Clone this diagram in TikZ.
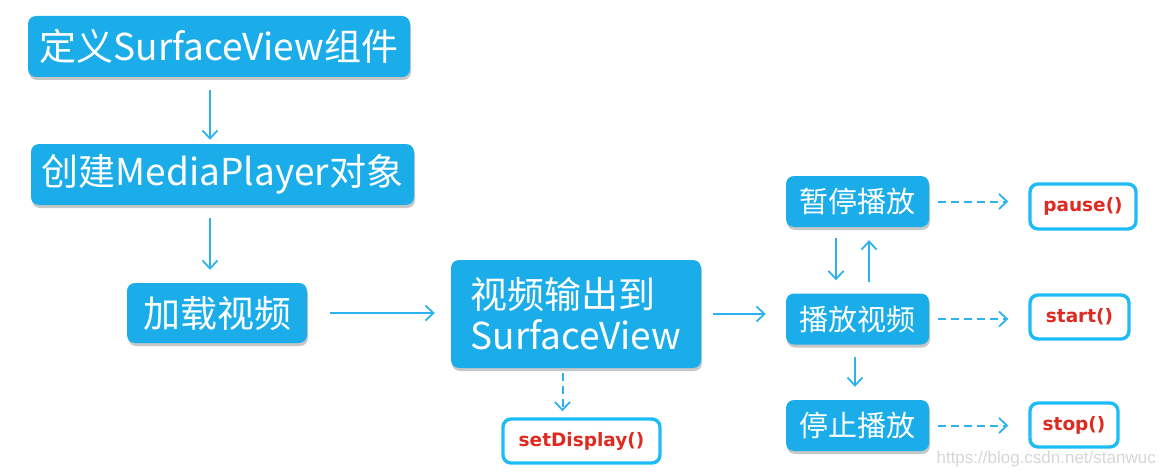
\documentclass[tikz,border=0pt]{standalone}
\usepackage{fontspec}
\newfontfamily\cjk{Noto Sans CJK SC}
\newfontfamily\codefont{DejaVu Sans}
\newfontfamily\wmfont{Liberation Sans}
\usetikzlibrary{arrows.meta,shadows,calc}
\definecolor{boxblue}{RGB}{26,173,234}
\definecolor{arrblue}{RGB}{45,178,238}
\definecolor{outcyan}{RGB}{30,188,246}
\definecolor{codered}{RGB}{222,42,32}
\definecolor{wmgray}{RGB}{214,214,214}
\tikzset{
  bluebox/.style={fill=boxblue, rounded corners=8pt, text=white, inner sep=0pt,
    font=\cjk, drop shadow={shadow xshift=1pt, shadow yshift=-3pt, opacity=0.22, fill=black}},
  bigbox/.style={bluebox, font=\cjk\fontsize{37}{41}\selectfont},
  smallbox/.style={bluebox, font=\cjk\fontsize{29}{33}\selectfont, minimum width=143pt, minimum height=51pt},
  codebox/.style={draw=outcyan, line width=3.4pt, fill=white, rounded corners=8pt, inner sep=0pt,
    text=codered, font=\codefont\bfseries\fontsize{18.5}{20}\selectfont},
  arr/.style={draw=arrblue, line width=1.8pt, -{Straight Barb[length=8pt,width=15pt,line width=1.8pt]}},
  darr/.style={arr, line width=2pt, dash pattern=on 8pt off 5pt},
}
\begin{document}
\begin{tikzpicture}[x=1pt,y=-1pt]
\useasboundingbox (0,0) rectangle (1164,476);
% blue boxes
\node[bigbox, minimum width=382pt, minimum height=61pt] (b1) at (219,46.5) {定义SurfaceView组件};
\node[bigbox, minimum width=383pt, minimum height=61pt] (b2) at (222.5,174.5) {创建MediaPlayer对象};
\node[bigbox, minimum width=180pt, minimum height=60pt] (b3) at (217,313) {加载视频};
\node[bigbox, minimum width=250pt, minimum height=108pt, align=left] (b4) at (576,314) {视频输出到\\SurfaceView};
\node[smallbox] (pause) at (857.5,201.5) {暂停播放};
\node[smallbox] (play) at (857.5,319) {播放视频};
\node[smallbox] (stop) at (857.5,425.5) {停止播放};
% code boxes
\node[codebox, minimum width=157pt, minimum height=44pt] (sd) at (581.5,441) {setDisplay()};
\node[codebox, minimum width=106pt, minimum height=45pt] (pz) at (1083,206.5) {pause()};
\node[codebox, minimum width=99pt, minimum height=44pt] (st) at (1079.5,317) {start()};
\node[codebox, minimum width=88pt, minimum height=44pt] (sp) at (1074,425) {stop()};
% connectors
\coordinate (a1) at ([xshift=-9pt]b1.south);
\draw[arr, shorten <=13pt, shorten >=4pt] (a1) -- (a1 |- b2.north);
\coordinate (a2) at ([xshift=-7pt]b3.north);
\draw[arr, shorten <=13pt, shorten >=13pt] (b2.south -| a2) -- (a2);
\draw[arr, shorten <=23pt, shorten >=16pt] (b3.east) -- (b3.east -| b4.west);
\draw[arr, shorten <=12pt, shorten >=20pt] (b4.east) -- (b4.east -| play.west);
\coordinate (a3) at ([xshift=-13.5pt]b4.south);
\draw[darr, shorten <=5pt, shorten >=6pt] (a3) -- (a3 |- sd.north);
\coordinate (a4) at ([xshift=-21.5pt]pause.south);
\draw[arr, shorten <=11pt, shorten >=13pt] (a4) -- (a4 |- play.north);
\coordinate (a5) at ([xshift=11.5pt]play.north);
\draw[arr, shorten <=11pt, shorten >=13pt] (a5) -- (a5 |- pause.south);
\coordinate (a6) at ([xshift=-2.5pt]play.south);
\draw[arr, shorten <=12pt, shorten >=13pt] (a6) -- (a6 |- stop.north);
\draw[darr, shorten <=9pt, shorten >=20pt] (pause.east) -- (pause.east -| pz.west);
\draw[darr, shorten <=9pt, shorten >=20pt] (play.east) -- (play.east -| st.west);
\draw[darr, shorten <=9pt, shorten >=20pt] (stop.east) -- (stop.east -| sp.west);
% watermark
\node[text=wmgray, font=\wmfont\fontsize{17}{19}\selectfont, anchor=east, inner sep=0pt] (wm) at (1156,459) {https://blog.csdn.net/stanwuc};
\end{tikzpicture}
\end{document}
